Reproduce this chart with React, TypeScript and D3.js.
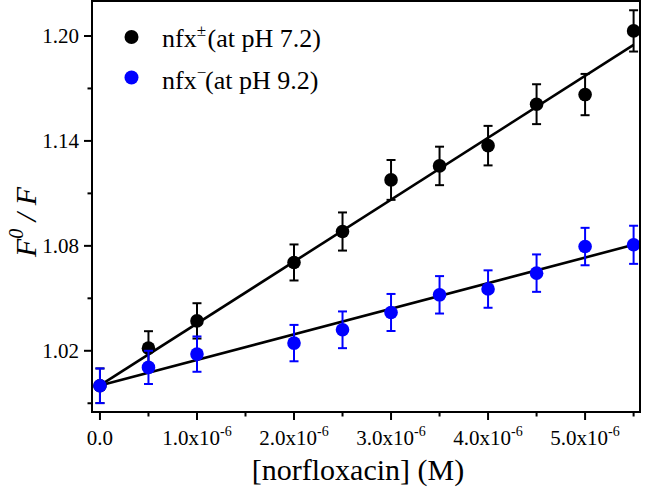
import React from "react";
import * as d3 from "d3";

const concentrations = [0, 0.5e-6, 1e-6, 2e-6, 2.5e-6, 3e-6, 3.5e-6, 4e-6, 4.5e-6, 5e-6, 5.5e-6];
const zwitterValues = [1.0, 1.0215, 1.0371, 1.0705, 1.0882, 1.1177, 1.1257, 1.1373, 1.161, 1.1665, 1.2029];
const zwitterErrors = [0.0099, 0.0097, 0.0101, 0.0103, 0.0109, 0.0114, 0.011, 0.0113, 0.0114, 0.0118, 0.0118];
const anionValues = [1.0, 1.0105, 1.0181, 1.0244, 1.032, 1.0419, 1.052, 1.0553, 1.0644, 1.0796, 1.0806];
const anionErrors = [0.0099, 0.0095, 0.0101, 0.0104, 0.0105, 0.0106, 0.0107, 0.0107, 0.0107, 0.0107, 0.0109];
const fitIntercepts = [1.0002, 1.0002];
const fitSlopes = [35400, 14620];
const fitRange = [0, 5.5e-6];

const yTicks = [1.02, 1.08, 1.14, 1.2];
const yMinorTicks = [0.99, 1.05, 1.11, 1.17];
const xTicks = [0, 1e-6, 2e-6, 3e-6, 4e-6, 5e-6];
const xMinorTicks = [0.5e-6, 1.5e-6, 2.5e-6, 3.5e-6, 4.5e-6, 5.5e-6];
const xTickMantissas = ["0.0", "1.0", "2.0", "3.0", "4.0", "5.0"];
const legendLabels = ["nfx", "nfx"];
const legendSups = ["±", "−"];
const legendTails = ["(at pH 7.2)", "(at pH 9.2)"];

const W = 645, H = 490;
const L = 92, R = 640, T = 1, B = 412;
const FONT = "'Liberation Serif', 'Times New Roman', Times, serif";

export default function App() {
  const x = d3.scaleLinear().domain([-0.082e-6, 5.566e-6]).range([L, R]);
  const y = d3.scaleLinear().domain([0.985, 1.22]).range([B, T]);

  const series = [
    { values: zwitterValues, errors: zwitterErrors, color: "#000000" },
    { values: anionValues, errors: anionErrors, color: "#0000ff" },
  ];

  const line = d3.line<number[]>().x((d) => x(d[0])).y((d) => y(d[1]));

  return (
    <svg width={W} height={H} style={{ position: "absolute", left: 0, top: 0, background: "#fff", fontFamily: FONT }}>
      <rect x={0} y={0} width={W} height={H} fill="#fff" />
      {fitSlopes.map((s, i) => (
        <path
          key={"fit" + i}
          d={line(fitRange.map((c) => [c, fitIntercepts[i] + s * c])) || ""}
          stroke="#000"
          strokeWidth={2.6}
          fill="none"
        />
      ))}
      {series.map((s, si) => (
        <g key={"s" + si}>
          {concentrations.map((c, i) => {
            const cx = x(c);
            const yt = y(s.values[i] + s.errors[i]);
            const yb = y(s.values[i] - s.errors[i]);
            return (
              <g key={i} stroke={s.color} strokeWidth={2}>
                <line x1={cx} x2={cx} y1={yt} y2={yb} />
                <line x1={cx - 4.5} x2={cx + 4.5} y1={yt} y2={yt} />
                <line x1={cx - 4.5} x2={cx + 4.5} y1={yb} y2={yb} />
              </g>
            );
          })}
          {concentrations.map((c, i) => (
            <circle key={"p" + i} cx={x(c)} cy={y(s.values[i])} r={6.8} fill={s.color} />
          ))}
        </g>
      ))}
      <rect x={L} y={T} width={R - L} height={B - T} fill="none" stroke="#000" strokeWidth={2} />
      {yTicks.map((t) => (
        <g key={"yt" + t}>
          <line x1={L - 8} x2={L} y1={y(t)} y2={y(t)} stroke="#000" strokeWidth={2} />
          <text x={L - 13} y={y(t) + 7} textAnchor="end" fontSize={21} style={{ fontFamily: FONT }}>
            {d3.format(".2f")(t)}
          </text>
        </g>
      ))}
      {yMinorTicks.map((t) => (
        <line key={"ym" + t} x1={L - 4.5} x2={L} y1={y(t)} y2={y(t)} stroke="#000" strokeWidth={2} />
      ))}
      {xTicks.map((t, i) => (
        <g key={"xt" + t}>
          <line x1={x(t)} x2={x(t)} y1={B} y2={B + 8} stroke="#000" strokeWidth={2} />
          <text x={x(t)} y={445} textAnchor="middle" fontSize={21} style={{ fontFamily: FONT }}>
            {t === 0 ? (
              xTickMantissas[i]
            ) : (
              <>
                {xTickMantissas[i]}x10
                <tspan fontSize={14} dy={-9}>-6</tspan>
              </>
            )}
          </text>
        </g>
      ))}
      {xMinorTicks.map((t) => (
        <line key={"xm" + t} x1={x(t)} x2={x(t)} y1={B} y2={B + 4.5} stroke="#000" strokeWidth={2} />
      ))}
      <text x={358} y={480} textAnchor="middle" fontSize={30} style={{ fontFamily: FONT }}>
        [norfloxacin] (M)
      </text>
      <text transform="translate(36,222) rotate(-90)" textAnchor="middle" fontSize={30} fontStyle="italic" style={{ fontFamily: FONT }}>
        F<tspan fontSize={20} dy={-13}>0</tspan>
        <tspan dy={13}> / F</tspan>
      </text>
      {legendLabels.map((lab, i) => {
        const cy = 37 + i * 40.5;
        const base = 46.7 + i * 42;
        return (
          <g key={"lg" + i}>
            <circle cx={131.5} cy={cy} r={7} fill={series[i].color} />
            <text x={162} y={base} fontSize={26} style={{ fontFamily: FONT }}>
              {lab}
              <tspan fontSize={17} dy={-11}>{legendSups[i]}</tspan>
              <tspan x={i === 0 ? 207.5 : 205} dy={11}>{legendTails[i]}</tspan>
            </text>
          </g>
        );
      })}
    </svg>
  );
}
